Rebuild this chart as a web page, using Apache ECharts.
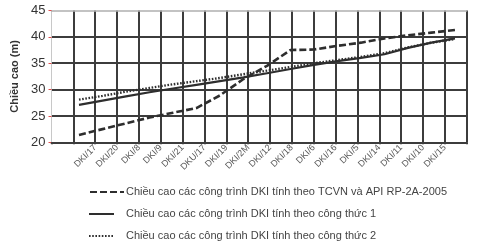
<!DOCTYPE html>
<html>
<head>
<meta charset="utf-8">
<script src="https://cdn.jsdelivr.net/npm/echarts@6/dist/echarts.min.js"></script>
<style>
html,body{margin:0;padding:0;background:#fff;}
#chart{width:485px;height:242px;}
</style>
</head>
<body>
<div id="chart"></div>
<script>
var categories = ['DKI/17','DKI/20','DKI/8','DKI/9','DKI/21','DKU/17','DKI/19','DKI/2M','DKI/12','DKI/18','DKI/6','DKI/16','DKI/5','DKI/14','DKI/11','DKI/10','DKI/15'];
var seriesNames = [
  'Chiều cao các công trình DKI tính theo TCVN và API RP-2A-2005',
  'Chiều cao các công trình DKI tính theo công thức 1',
  'Chiều cao các công trình DKI tính theo công thức 2'
];
var tcvn = [21.4, 22.5, 23.6, 24.7, 25.6, 26.5, 28.9, 32.0, 34.5, 37.5, 37.6, 38.3, 38.9, 39.7, 40.3, 40.8, 41.3];
var ct1  = [27.1, 27.9, 28.7, 29.5, 30.2, 30.9, 31.6, 32.3, 33.1, 33.9, 34.7, 35.4, 36.0, 36.7, 37.9, 38.9, 39.7];
var ct2  = [28.1, 28.8, 29.6, 30.3, 31.0, 31.6, 32.2, 32.9, 33.6, 34.3, 35.0, 35.6, 36.2, 36.9, 38.0, 38.9, 39.6];

var FONT = 'Liberation Sans, Arial, sans-serif';
var GRID = '#3c3c3c';
var INK = '#2e2e2e';
var labelAxisData = ['', ''].concat(categories).concat(['']);

function pairs(arr) { return arr.map(function (v, i) { return [i, v]; }); }

var legendTops = [186.5, 208.5, 230.5];
var legendLefts = [89, 88, 88];
var legendWidths = [34, 25, 25];
var legendTextPad = [-3, 7, 7];
var legends = seriesNames.map(function (n, i) {
  return {
    orient: 'horizontal',
    left: legendLefts[i],
    top: legendTops[i],
    padding: 0,
    itemWidth: legendWidths[i],
    itemHeight: 10,
    itemGap: 0,
    selectedMode: false,
    itemStyle: {opacity: 0},
    textStyle: {fontSize: 11, color: '#444', fontFamily: FONT, padding: [0, 0, 0, legendTextPad[i]]},
    data: [n]
  };
});

var chart = echarts.init(document.getElementById('chart'), null, {renderer: 'canvas'});
chart.setOption({
  animation: false,
  backgroundColor: '#fff',
  textStyle: {fontFamily: FONT},
  grid: {left: 51.5, right: 18.3, top: 10.5, bottom: 99.7, containLabel: false},
  legend: legends,
  xAxis: [
    {
      type: 'category',
      data: labelAxisData,
      boundaryGap: false,
      axisLine: {show: true, onZero: false, lineStyle: {color: GRID, width: 2}},
      axisTick: {show: true, length: 2, interval: 0, lineStyle: {color: GRID, width: 2}},
      axisLabel: {interval: 0, rotate: 45, fontSize: 9, color: '#555', margin: 4, fontFamily: FONT},
      splitLine: {show: true, interval: 0, showMinLine: false, lineStyle: {color: GRID, width: 2}}
    },
    {
      type: 'value',
      min: -1.17,
      max: 16.5,
      show: false,
      splitLine: {show: false}
    },
    {
      type: 'category',
      position: 'top',
      data: labelAxisData,
      boundaryGap: false,
      axisLine: {show: true, onZero: false, lineStyle: {color: '#b0b0b0', width: 1.5}},
      axisTick: {show: false},
      axisLabel: {show: false},
      splitLine: {show: false}
    }
  ],
  yAxis: {
    type: 'value',
    min: 20,
    max: 45,
    interval: 5,
    name: 'Chiều cao (m)',
    nameLocation: 'middle',
    nameRotate: 90,
    nameGap: 31,
    nameTextStyle: {fontSize: 11, fontWeight: 'bold', color: '#333', fontFamily: FONT},
    axisLine: {show: true, onZero: false, lineStyle: {color: '#c8c8c8', width: 1}},
    axisTick: {show: true, length: 3, lineStyle: {color: '#e05050', width: 1}},
    axisLabel: {fontSize: 13, color: '#333', margin: 6, fontFamily: FONT},
    splitLine: {show: true, showMaxLine: false, lineStyle: {color: GRID, width: 2}}
  },
  series: [
    {
      name: seriesNames[0], type: 'line', xAxisIndex: 1, data: pairs(tcvn),
      symbol: 'none', showSymbol: false,
      lineStyle: {color: INK, width: 2.6, type: [7, 3]},
      itemStyle: {color: INK}
    },
    {
      name: seriesNames[1], type: 'line', xAxisIndex: 1, data: pairs(ct1),
      symbol: 'none', showSymbol: false,
      lineStyle: {color: INK, width: 2.2, type: 'solid'},
      itemStyle: {color: INK}
    },
    {
      name: seriesNames[2], type: 'line', xAxisIndex: 1, data: pairs(ct2),
      symbol: 'none', showSymbol: false,
      lineStyle: {color: INK, width: 2.4, type: [1.6, 1.6]},
      itemStyle: {color: INK}
    }
  ]
});
</script>
</body>
</html>
